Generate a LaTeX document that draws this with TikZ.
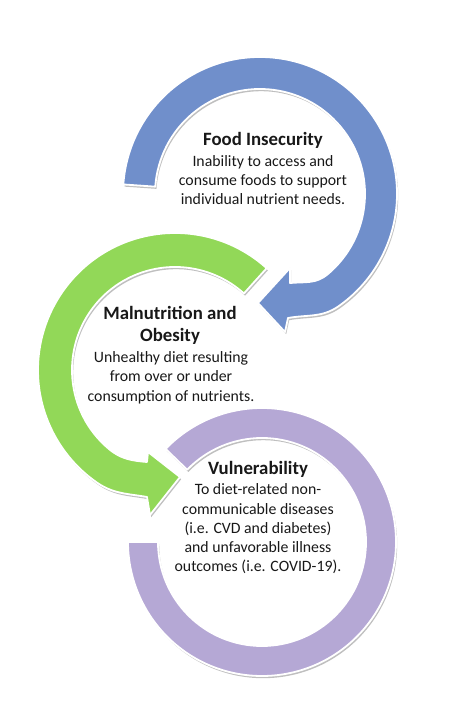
\documentclass[tikz,border=0pt]{standalone}
\usepackage{fontspec}
\setmainfont{Carlito}
\usepackage{tikz}
\usetikzlibrary{calc,shadows}
\usepackage{xcolor}
\definecolor{ringblue}{RGB}{112,143,203}
\definecolor{ringgreen}{RGB}{146,216,88}
\definecolor{ringpurple}{RGB}{181,168,213}
\definecolor{textgrey}{RGB}{24,24,24}

\begin{document}
\begin{tikzpicture}
    [   x = 0.5pt
    ,   y = 0.5pt
    ,   ring/.style =
        {   fill = #1
        ,   draw = white
        ,   line width = 0.9pt
        ,   line join = round
        ,   drop shadow={shadow xshift=0.6pt,shadow yshift=-1.1pt,fill=black!50,opacity=0.5}
        }
    ,   title/.style =
        {   anchor = base
        ,   text = textgrey
        ,   font = \fontsize{9.4}{11}\selectfont\bfseries
        }
    ,   body/.style =
        {   anchor = base
        ,   text = textgrey
        ,   font = \fontsize{7.9}{9.5}\selectfont
        }
    ]
    \useasboundingbox (0,0) rectangle (452,706);
    \coordinate (cF) at (260,512);
    \coordinate (cM) at (175,336);
    \coordinate (cV) at (262,164);

    % rings
    \path[ring=ringpurple, shift={(cV)}]
        (136:134) arc[start angle=136, end angle=-180, radius=134]
        -- (180:104) arc[start angle=-180, end angle=136, radius=104] -- cycle;
    \path[ring=ringgreen, shift={(cM)}]
        (48:137) arc[start angle=48, end angle=235, radius=137]
        to[out=-35, in=170] (-28,-127) -- (-25,-145) -- (5,-107)
        -- (-27,-82) -- (-28,-92)
        to[out=175, in=-40] (230:103) arc[start angle=230, end angle=48, radius=103] -- cycle;
    \path[ring=ringblue, shift={(cF)}]
        (176:137) arc[start angle=176, end angle=-55, radius=137]
        to[out=-145, in=10] (28,-124) -- (25,-138) -- (-2,-109)
        -- (30,-74) -- (30,-89)
        to[out=5, in=220] (-50:105) arc[start angle=-50, end angle=176, radius=105] -- cycle;

    % texts
    \node[title] (food) at (263,560) {Food Insecurity};
    \foreach\line [count=\i] in {Inability to access and, consume foods to support, individual nutrient needs.}
    {   \node[body] (food-\i) at (263,558-19*\i) {\line};
    }
    \node[title] (maln) at (170,386) {Malnutrition and};
    \node[title] (obes) at (170,364) {Obesity};
    \foreach\line [count=\i] in {Unhealthy diet resulting, from over or under, consumption of nutrients.}
    {   \node[body] (maln-\i) at (171,363-19.5*\i) {\line};
    }
    \node[title] (vuln) at (258,231) {Vulnerability};
    \foreach\line [count=\i] in {To diet-related non-, communicable diseases, {(i.e. CVD and diabetes)}, and unfavorable illness, {outcomes (i.e. COVID-19).}}
    {   \node[body] (vuln-\i) at (258,230.25-19.25*\i) {\line};
    }

\end{tikzpicture}
\end{document}
